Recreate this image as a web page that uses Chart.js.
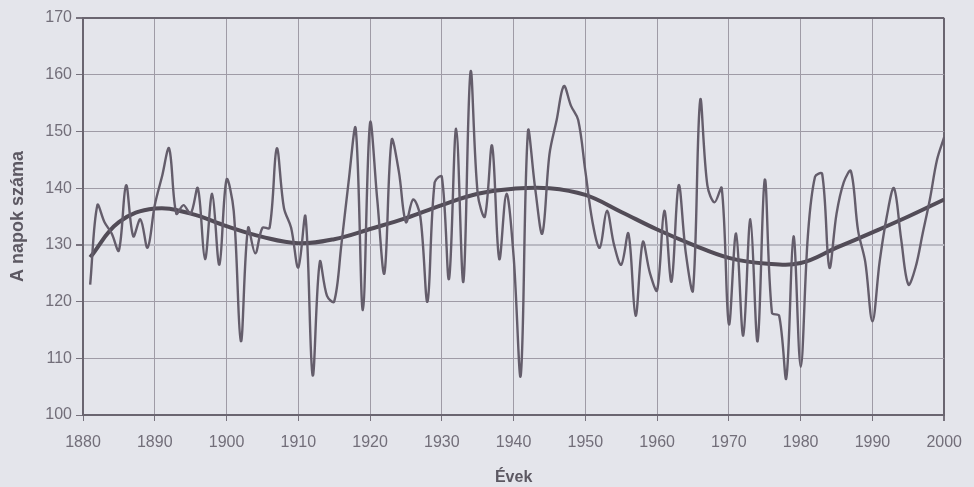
<!DOCTYPE html>
<html><head><meta charset="utf-8">
<script src="https://cdn.jsdelivr.net/npm/chart.js@4.4.1/dist/chart.umd.min.js"></script>
<style>html,body{margin:0;padding:0;background:#e4e5eb;}#wrap{width:974px;height:487px;}</style>
</head><body><div id="wrap"><canvas id="c" width="974" height="487"></canvas></div>
<script>
// Number of days per year (1881-2000)
const firstYear = 1881;
const daysPerYear = [
  123, 137, 134, 132, 129, 140.5, 131.5, 134.5, 129.5, 137,      // 1881-1890
  142, 147, 135.5, 137, 135.5, 140, 127.5, 139, 126.5, 141.5,     // 1891-1900
  136, 113, 133, 128.5, 133, 133, 147, 136.5, 133, 126,           // 1901-1910
  135, 107, 127, 121, 120, 130, 141, 150.5, 118.5, 151.5,         // 1911-1920
  138, 125, 148.5, 143, 134, 138, 135, 120, 141, 142,             // 1921-1930
  124, 150.5, 123.5, 160.5, 139, 135, 147.5, 127.5, 139, 128,     // 1931-1940
  107, 150, 140, 132, 146, 152, 158, 154.5, 152, 143,             // 1941-1950
  134, 129.5, 136, 130, 126.5, 132, 117.5, 130.5, 125, 122,       // 1951-1960
  136, 123.5, 140.5, 128.5, 122, 155.5, 140.5, 137.5, 140, 116,   // 1961-1970
  132, 114, 134.5, 113, 141.5, 118, 117.5, 106.5, 131.5, 108.5,   // 1971-1980
  131.5, 142, 142.5, 126, 135.5, 141, 143, 132.5, 127, 116.5,     // 1981-1990
  127, 135, 140, 131, 123, 126, 132, 138, 145, 149                // 1991-2000
];
const years = daysPerYear.map((_, i) => firstYear + i);

// Smoothed trend line
const trendYears  = [1881, 1885, 1890, 1895, 1900, 1905, 1910, 1915, 1920, 1925, 1930, 1935, 1940, 1945, 1950, 1955, 1960, 1965, 1970, 1975, 1980, 1985, 1990, 1995, 2000];
const trendValues = [127.8, 134.0, 136.4, 135.5, 133.3, 131.4, 130.3, 131.0, 132.8, 134.7, 137.0, 139.0, 139.9, 140.0, 138.8, 135.8, 132.7, 130.0, 127.7, 126.7, 126.8, 129.5, 132.2, 135.0, 138.0];

const xMin = 1880, xMax = 2000, xStep = 10;
const yMin = 100, yMax = 170, yStep = 10;
const refLine = 130;

const bgPlugin = {
  id: 'bg',
  beforeDraw(chart) {
    const c = chart.ctx;
    c.save();
    c.fillStyle = '#e4e5eb';
    c.fillRect(0, 0, chart.width, chart.height);
    c.restore();
  }
};

const gridCol = '#9f9ba6';
const frameCol = '#6a6570';
const refCol = '#b9b9c2';

new Chart(document.getElementById('c'), {
  type: 'line',
  data: {
    datasets: [
      {
        data: years.map((y, i) => ({x: y, y: daysPerYear[i]})),
        borderColor: '#645d6b',
        borderWidth: 2.4,
        pointRadius: 0,
        tension: 0.35,
        fill: false
      },
      {
        data: trendYears.map((y, i) => ({x: y, y: trendValues[i]})),
        borderColor: '#524c57',
        borderWidth: 4,
        pointRadius: 0,
        tension: 0.4,
        fill: false
      }
    ]
  },
  options: {
    responsive: false,
    animation: false,
    devicePixelRatio: 1,
    layout: {padding: {top: 18, right: 19, left: 0, bottom: 0}},
    plugins: {legend: {display: false}, tooltip: {enabled: false}},
    scales: {
      x: {
        type: 'linear',
        min: xMin, max: xMax,
        afterFit: s => { s.height = 72; },
        ticks: {
          stepSize: xStep,
          callback: v => String(v),
          font: {family: 'Liberation Sans, Arial, sans-serif', size: 16},
          color: '#726e79',
          padding: 12,
          maxRotation: 0
        },
        grid: {
          color: ctx => (ctx.tick && ctx.tick.value === xMax) ? frameCol : gridCol,
          lineWidth: ctx => (ctx.tick && ctx.tick.value === xMax) ? 2 : 1,
          tickLength: 6,
          tickColor: '#77727d'
        },
        border: {display: true, color: frameCol, width: 2},
        title: {
          display: true,
          text: 'Évek',
          font: {family: 'Liberation Sans, Arial, sans-serif', size: 16, weight: 'bold'},
          color: '#5c5862',
          padding: {top: 0, bottom: 0}
        }
      },
      y: {
        type: 'linear',
        min: yMin, max: yMax,
        afterFit: s => { s.width = 83; },
        ticks: {
          stepSize: yStep,
          font: {family: 'Liberation Sans, Arial, sans-serif', size: 16},
          color: '#726e79',
          padding: 4
        },
        grid: {
          color: ctx => {
            if (!ctx.tick) return gridCol;
            if (ctx.tick.value === yMax) return frameCol;
            if (ctx.tick.value === refLine) return refCol;
            return gridCol;
          },
          lineWidth: ctx => {
            if (!ctx.tick) return 1;
            if (ctx.tick.value === yMax || ctx.tick.value === refLine) return 2;
            return 1;
          },
          tickLength: 7,
          tickColor: '#77727d'
        },
        border: {display: true, color: frameCol, width: 2},
        title: {
          display: true,
          text: 'A napok száma',
          font: {family: 'Liberation Sans, Arial, sans-serif', size: 18, weight: 'bold'},
          color: '#5c5862',
          padding: {top: 7, bottom: 0}
        }
      }
    }
  },
  plugins: [bgPlugin]
});
</script>
</body></html>
